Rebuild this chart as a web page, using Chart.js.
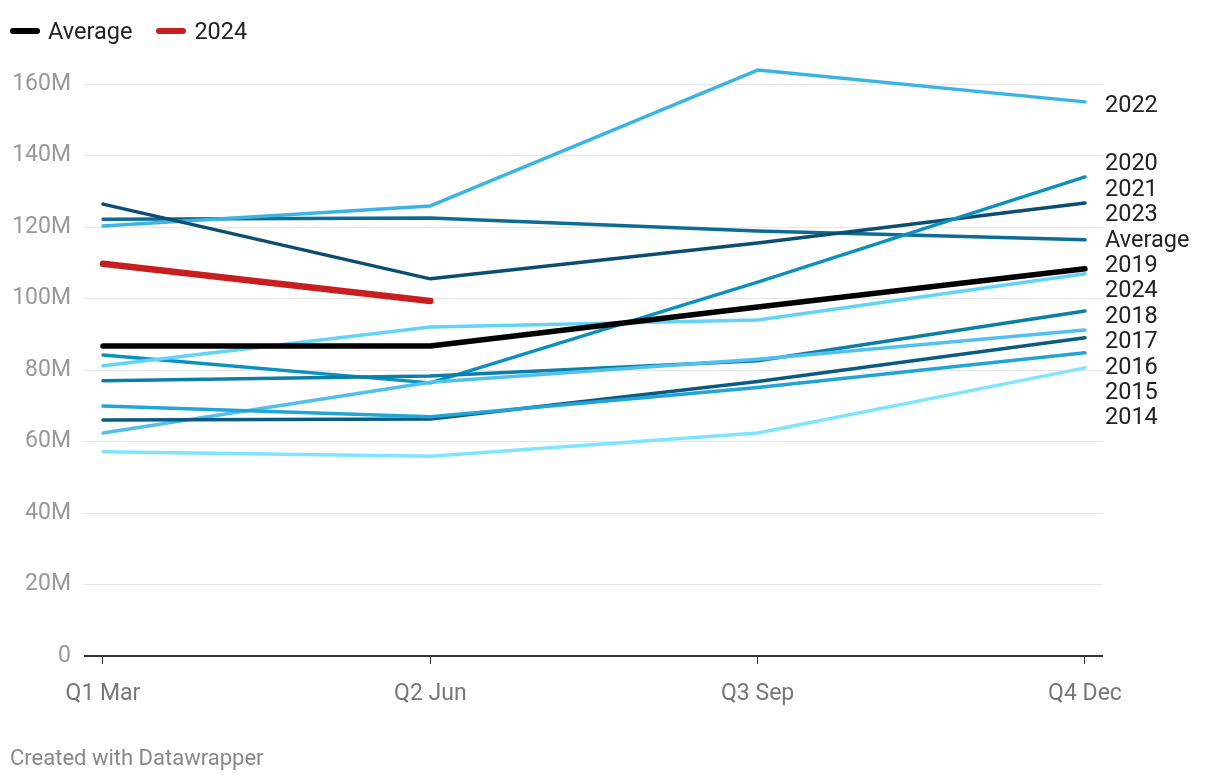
<!DOCTYPE html>
<html>
<head>
<meta charset="utf-8">
<script src="https://cdn.jsdelivr.net/npm/chart.js@4.4.1/dist/chart.umd.min.js"></script>
<style>
  body { margin: 0; background: #fff; font-family: Roboto, sans-serif; }
  #wrap { position: relative; width: 1220px; height: 782px; }
  #legend { position: absolute; left: 10px; top: 17px; display: flex; gap: 24px; font-size: 23.5px; color: #222; }
  #legend .item { display: flex; align-items: center; }
  #legend .swatch { width: 30px; height: 6px; border-radius: 3px; margin-right: 8px; }
  #footer { position: absolute; left: 10px; top: 745px; font-size: 22px; color: #888; }
</style>
</head>
<body>
<div id="wrap">
  <canvas id="chart" width="1220" height="782"></canvas>
  <div id="legend"></div>
  <div id="footer">Created with Datawrapper</div>
</div>
<script>
// quarterly values, in millions
const quarters = ["Q1 Mar", "Q2 Jun", "Q3 Sep", "Q4 Dec"];
const yTicks = [0, 20, 40, 60, 80, 100, 120, 140, 160];

const v2014 = [57.1, 55.9, 62.4, 80.6];
const v2015 = [69.9, 66.9, 75.1, 84.8];
const v2016 = [66.0, 66.3, 76.8, 89.0];
const v2017 = [62.4, 76.6, 83.0, 91.2];
const v2018 = [77.0, 78.3, 82.6, 96.5];
const v2019 = [81.2, 92.0, 94.0, 106.9];
const v2020 = [84.2, 76.4, 104.6, 134.0];
const v2021 = [126.4, 105.5, 115.5, 126.7];
const v2022 = [120.3, 125.9, 163.9, 155.0];
const v2023 = [122.2, 122.5, 118.9, 116.4];
const v2024 = [109.7, 99.3];
const average = [86.7, 86.7, 97.6, 108.3];

const series = [
  { label: "2024", data: v2024, color: "#c71f1f", width: 6.5 },
  { label: "Average", data: average, color: "#000000", width: 5.5 },
  { label: "2014", data: v2014, color: "#7fe4ff", width: 3.5 },
  { label: "2015", data: v2015, color: "#22a5d6", width: 3.5 },
  { label: "2016", data: v2016, color: "#0a5b82", width: 3.5 },
  { label: "2017", data: v2017, color: "#52c0ef", width: 3.5 },
  { label: "2018", data: v2018, color: "#0b7fa8", width: 3.5 },
  { label: "2019", data: v2019, color: "#63d4f8", width: 3.5 },
  { label: "2020", data: v2020, color: "#0b90c0", width: 3.5 },
  { label: "2021", data: v2021, color: "#0a4e72", width: 3.5 },
  { label: "2022", data: v2022, color: "#3cb4e3", width: 3.5 },
  { label: "2023", data: v2023, color: "#0d6c94", width: 3.5 },
];

// html legend, only the two highlighted series
const legendEl = document.getElementById("legend");
["Average", "2024"].forEach((name) => {
  const s = series.find((d) => d.label === name);
  const item = document.createElement("div");
  item.className = "item";
  item.innerHTML = '<span class="swatch" style="background:' + s.color + '"></span>' + name;
  legendEl.appendChild(item);
});

// labels at the end of each line, pushed apart so they do not overlap
const endLabels = {
  id: "endLabels",
  afterDatasetsDraw(chart) {
    const { ctx, chartArea, scales } = chart;
    const gap = 25.4;
    const items = chart.data.datasets.map((ds) => {
      const last = ds.data[ds.data.length - 1];
      const y = scales.y.getPixelForValue(last.y) + 4;
      return { text: ds.label, target: y, y: y };
    });
    items.sort((a, b) => a.target - b.target);
    for (let k = 0; k < 400; k++) {
      for (let i = 1; i < items.length; i++) {
        const d = items[i].y - items[i - 1].y;
        if (d < gap) {
          const o = (gap - d) / 2;
          items[i - 1].y -= o;
          items[i].y += o;
        }
      }
    }
    ctx.save();
    ctx.font = "23.5px Roboto";
    ctx.fillStyle = "#222";
    ctx.textAlign = "left";
    ctx.textBaseline = "middle";
    items.forEach((it) => ctx.fillText(it.text, chartArea.right + 2, it.y));
    ctx.restore();
  },
};

Chart.defaults.font.family = "Roboto";

new Chart(document.getElementById("chart"), {
  type: "line",
  data: {
    datasets: series.map((s) => ({
      label: s.label,
      data: s.data.map((v, i) => ({ x: i, y: v })),
      borderColor: s.color,
      backgroundColor: s.color,
      borderWidth: s.width,
      borderCapStyle: "round",
      borderJoinStyle: "round",
      pointRadius: 0,
      tension: 0,
      fill: false,
      clip: false,
    })),
  },
  options: {
    responsive: false,
    animation: false,
    devicePixelRatio: 1,
    layout: { padding: { top: 84, right: 117, bottom: 0, left: 0 } },
    plugins: {
      legend: { display: false },
      tooltip: { enabled: false },
    },
    scales: {
      x: {
        type: "linear",
        min: -0.058,
        max: 3.055,
        afterBuildTicks: (scale) => {
          scale.ticks = quarters.map((q, i) => ({ value: i }));
        },
        afterFit: (scale) => {
          scale.height = 126;
        },
        border: { display: false },
        grid: { drawOnChartArea: false, drawTicks: true, tickLength: 8, color: "#333" },
        ticks: {
          callback: (v) => quarters[v],
          color: "#777",
          font: { size: 23 },
          padding: 16,
          maxRotation: 0,
          autoSkip: false,
        },
      },
      y: {
        min: 0,
        max: 160,
        afterBuildTicks: (scale) => {
          scale.ticks = yTicks.map((v) => ({ value: v }));
        },
        afterFit: (scale) => {
          scale.width = 84;
        },
        border: { display: false },
        grid: {
          drawTicks: false,
          color: (c) => (c.tick && c.tick.value === 0 ? "#333" : "#e6e6e6"),
          lineWidth: (c) => (c.tick && c.tick.value === 0 ? 2 : 1),
        },
        ticks: {
          callback: (v) => (v === 0 ? "0" : v + "M"),
          color: "#999",
          font: { size: 23 },
          padding: 13,
        },
      },
    },
  },
  plugins: [endLabels],
});
</script>
</body>
</html>
